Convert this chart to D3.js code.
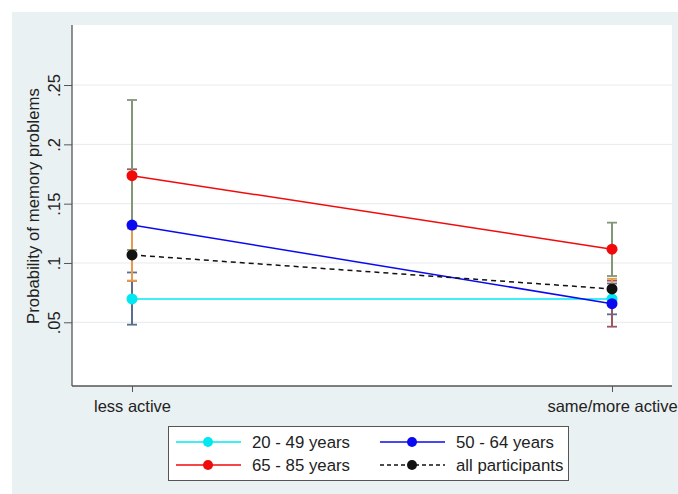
<!DOCTYPE html>
<html><head><meta charset="utf-8">
<script src="https://cdn.jsdelivr.net/npm/d3@7"></script>
<style>body{margin:0;background:#fff}svg{display:block}text{font-family:"Liberation Sans",Arial,sans-serif;fill:#222}</style>
</head><body>
<svg id="c" width="678" height="494"></svg>
<script>
const categories = ["less active", "same/more active"];
const groups = ["20 - 49 years", "50 - 64 years", "65 - 85 years", "all participants"];
const yTicks = [0.05, 0.1, 0.15, 0.2, 0.25];
const yTickLabels = [".05", ".1", ".15", ".2", ".25"];
const prob_20_49 = [0.0697, 0.0697];
const lo_20_49 = [0.048, 0.0567];
const hi_20_49 = [0.092, 0.0827];
const prob_50_64 = [0.132, 0.0657];
const lo_50_64 = [0.085, 0.0463];
const hi_50_64 = [0.179, 0.0851];
const prob_65_85 = [0.1736, 0.1116];
const lo_65_85 = [0.111, 0.089];
const hi_65_85 = [0.2374, 0.134];
const prob_all = [0.1068, 0.0781];
const lo_all = [0.085, 0.0695];
const hi_all = [0.129, 0.0867];

const series = [
  {name: groups[0], p: prob_20_49, lo: lo_20_49, hi: hi_20_49, color: "#00e8f2", ci: "#5a6f90", dash: null},
  {name: groups[1], p: prob_50_64, lo: lo_50_64, hi: hi_50_64, color: "#0a0af0", ci: "#9a5862", dash: null},
  {name: groups[2], p: prob_65_85, lo: lo_65_85, hi: hi_65_85, color: "#f20a0a", ci: "#84967a", dash: null},
  {name: groups[3], p: prob_all, lo: lo_all, hi: hi_all, color: "#111", ci: "#e89a48", dash: "5,4"}
];

const svg = d3.select("#c");
const L = 72, R = 672, T = 25, B = 386;
svg.append("rect").attr("x", 12).attr("y", 12).attr("width", 666).attr("height", 482).attr("fill", "#eaf1f3");
svg.append("rect").attr("x", L).attr("y", T).attr("width", R - L).attr("height", B - T).attr("fill", "#fff");

const x = d3.scalePoint().domain(categories).range([L, R]).padding(0.125);
const y = d3.scaleLinear().domain([-0.0037, 0.3006]).range([B, T]);

// grid
svg.append("g").selectAll("line").data(yTicks).join("line")
  .attr("x1", L).attr("x2", R).attr("y1", d => y(d)).attr("y2", d => y(d))
  .attr("stroke", "#e6eaec").attr("stroke-width", 1);

// axes
const yAxis = d3.axisLeft(y).tickValues(yTicks).tickFormat((d, i) => yTickLabels[i]).tickSize(8).tickPadding(4);
const gy = svg.append("g").attr("transform", `translate(${L},0)`).call(yAxis);
gy.select(".domain").attr("d", `M0,${T}V${B}`).attr("stroke", "#555").attr("stroke-width", 1.3);
gy.selectAll(".tick line").attr("stroke", "#555");
gy.selectAll(".tick text").attr("x", 0).attr("dy", "0.35em")
  .attr("transform", "translate(-17.5,0) rotate(-90)").attr("text-anchor", "middle")
  .attr("font-size", 16.5).attr("fill", "#222").attr("font-family", "Liberation Sans, Arial, sans-serif");

const xAxis = d3.axisBottom(x).tickSize(6).tickPadding(8);
const gx = svg.append("g").attr("transform", `translate(0,${B})`).call(xAxis);
gx.select(".domain").attr("d", `M${L},0H${R}`).attr("stroke", "#555").attr("stroke-width", 1.3);
gx.selectAll(".tick line").attr("stroke", "#555");
gx.selectAll(".tick text").attr("font-size", 16.5).attr("fill", "#222").attr("font-family", "Liberation Sans, Arial, sans-serif");

svg.append("text").attr("transform", `translate(39,206) rotate(-90)`).attr("text-anchor", "middle")
  .attr("font-size", 16.8).text("Probability of memory problems");

// CIs
series.forEach(s => {
  const g = svg.append("g");
  categories.forEach((c, i) => {
    const cx = x(c);
    g.append("line").attr("x1", cx).attr("x2", cx).attr("y1", y(s.lo[i])).attr("y2", y(s.hi[i]))
      .attr("stroke", s.ci).attr("stroke-width", 2);
    [s.lo[i], s.hi[i]].forEach(v => {
      g.append("line").attr("x1", cx - 5).attr("x2", cx + 5).attr("y1", y(v)).attr("y2", y(v))
        .attr("stroke", s.ci).attr("stroke-width", 1.8);
    });
  });
});

// lines + markers
const line = d3.line().x((d, i) => x(categories[i])).y(d => y(d));
series.forEach(s => {
  svg.append("path").attr("d", line(s.p)).attr("fill", "none").attr("stroke", s.color)
    .attr("stroke-width", 1.5).attr("stroke-dasharray", s.dash);
  svg.append("g").selectAll("circle").data(s.p).join("circle")
    .attr("cx", (d, i) => x(categories[i])).attr("cy", d => y(d)).attr("r", 5.5).attr("fill", s.color);
});

// legend
const lg = svg.append("g");
lg.append("rect").attr("x", 168.5).attr("y", 426.5).attr("width", 400).attr("height", 54)
  .attr("fill", "#fff").attr("stroke", "#555").attr("stroke-width", 1);
const pos = [[176, 442], [380, 442], [176, 465], [380, 465]];
series.forEach((s, i) => {
  const [lx, ly] = pos[i];
  lg.append("line").attr("x1", lx).attr("x2", lx + 65).attr("y1", ly).attr("y2", ly)
    .attr("stroke", s.color).attr("stroke-width", 1.5).attr("stroke-dasharray", s.dash ? "4,3" : null);
  lg.append("circle").attr("cx", lx + 32).attr("cy", ly).attr("r", 5).attr("fill", s.color);
  lg.append("text").attr("x", lx + 76).attr("y", ly).attr("dy", "0.35em").attr("font-size", 16.8).text(s.name);
});
</script>
</body></html>
